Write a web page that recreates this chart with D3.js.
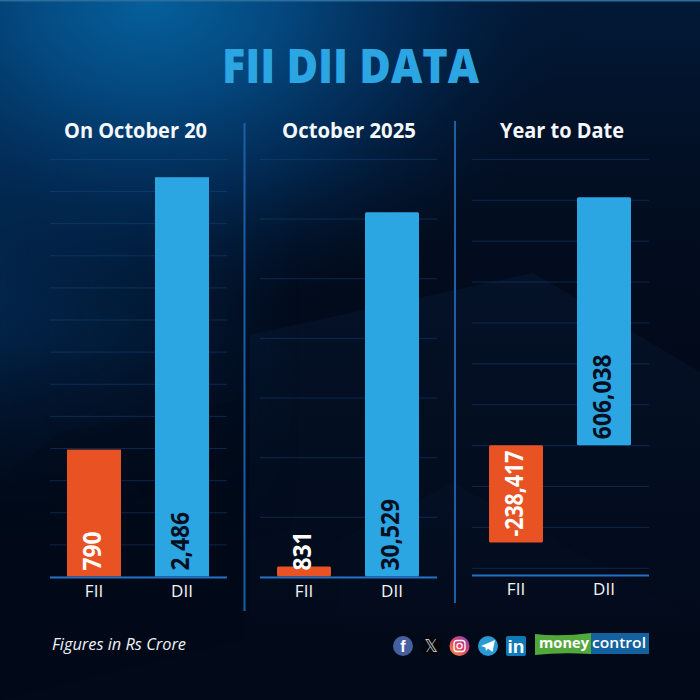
<!DOCTYPE html>
<html>
<head>
<meta charset="utf-8">
<script src="https://cdn.jsdelivr.net/npm/d3@7"></script>
<style>
html,body{margin:0;padding:0;background:#020a1a}
svg{display:block}
text{font-family:"Open Sans","Noto Sans",sans-serif}
</style>
</head>
<body>
<div id="chart"></div>
<script>
const chartTitle = "FII DII DATA";
const footnote = "Figures in Rs Crore";
const categories = ["FII", "DII"];
const panelTitles = ["On October 20", "October 2025", "Year to Date"];
const onOct20Values = [790, 2486];
const oct2025Values = [831, 30529];
const yearToDateValues = [-238417, 606038];
const oct20Domain = [0, 2600];
const oct2025Domain = [0, 35000];
const ytdDomain = [-300000, 700000];
const oct20TickCount = 13;
const oct2025TickCount = 7;
const ytdTickCount = 10;

const W = 700, H = 700;
const svg = d3.select("#chart").append("svg").attr("width", W).attr("height", H);
const defs = svg.append("defs");

function radial(id, cx, cy, r, stops, tf) {
  const g = defs.append("radialGradient").attr("id", id).attr("gradientUnits", "userSpaceOnUse")
    .attr("cx", cx).attr("cy", cy).attr("r", r);
  if (tf) g.attr("gradientTransform", tf);
  stops.forEach(s => g.append("stop").attr("offset", s[0]).attr("stop-color", s[1]).attr("stop-opacity", s[2]));
}
function linear(id, x1, y1, x2, y2, stops) {
  const g = defs.append("linearGradient").attr("id", id).attr("gradientUnits", "userSpaceOnUse")
    .attr("x1", x1).attr("y1", y1).attr("x2", x2).attr("y2", y2);
  stops.forEach(s => g.append("stop").attr("offset", s[0]).attr("stop-color", s[1]).attr("stop-opacity", s[2]));
}
radial("glow", 150, 0, 300, [[0, "#05609c", 1], [0.3, "#04487f", 1], [0.62, "#022b56", 0.85], [1, "#01142d", 0]],
  "translate(150 0) scale(1.45 1.05) translate(-150 0)");
linear("leftFade", 0, 100, 0, 540, [[0, "#03386a", 0.9], [0.55, "#022850", 0.8], [1, "#020c1e", 0]]);
linear("leftFadeX", 0, 0, 300, 0, [[0, "#fff", 1], [0.4, "#fff", 0.7], [1, "#fff", 0]]);
defs.append("mask").attr("id", "leftMask").append("rect").attr("width", W).attr("height", H).attr("fill", "url(#leftFadeX)");
linear("rightTop", 0, 0, 0, 400, [[0, "#021a38", 1], [1, "#020a1a", 0]]);
linear("chev", 0, 270, 0, 640, [[0, "#114078", 0.13], [1, "#114078", 0]]);
linear("ig", 450, 656, 468, 636, [[0, "#f7a23b", 1], [0.5, "#e1426a", 1], [1, "#8a45b5", 1]]);

// Background
svg.append("rect").attr("width", W).attr("height", H).attr("fill", "#020a1a");
svg.append("rect").attr("width", W).attr("height", 400).attr("fill", "url(#rightTop)");
svg.append("rect").attr("width", W).attr("height", H).attr("fill", "url(#leftFade)").attr("mask", "url(#leftMask)");
svg.append("rect").attr("width", W).attr("height", H).attr("fill", "url(#glow)");
const line = d3.line();
const chevrons = [
  [[250, 335], [533, 273], [700, 372], [700, 640], [250, 640]],
  [[340, 540], [453, 483], [700, 622], [700, 700], [340, 700]]
];
svg.append("g").selectAll("path").data(chevrons).join("path")
  .attr("d", d => line(d) + "Z").attr("fill", "url(#chev)");
svg.append("path").attr("d", line([[0, 480], [60, 432], [244, 400], [244, 640], [0, 700]]) + "Z")
  .attr("fill", "#010814").attr("opacity", 0.22);
svg.append("rect").attr("width", W).attr("height", 1.5).attr("fill", "#2b6d9c");

// Title
svg.append("text").attr("x", 350.5).attr("y", 83).attr("text-anchor", "middle")
  .attr("font-size", 48).attr("font-weight", 800).attr("fill", "#2ba6e3")
  .attr("textLength", 257).attr("lengthAdjust", "spacingAndGlyphs").text(chartTitle);

// Panels
const panels = [
  {title: panelTitles[0], values: onOct20Values, domain: oct20Domain, ticks: oct20TickCount,
   x0: 50, yBottom: 576.5, axisY: 577, titleX: 135.5, titleLen: 143, rx: 0},
  {title: panelTitles[1], values: oct2025Values, domain: oct2025Domain, ticks: oct2025TickCount,
   x0: 260, yBottom: 576.5, axisY: 577, titleX: 349, titleLen: 134, rx: 1.5},
  {title: panelTitles[2], values: yearToDateValues, domain: ytdDomain, ticks: ytdTickCount,
   x0: 472, yBottom: 567.8, axisY: 575, titleX: 562, titleLen: 124, rx: 1.5}
];
const panelW = 177;
const colors = ["#e95324", "#2ba6e3"];
const labelColors = ["#ffffff", "#030f20"];
const fmt = v => d3.format(",")(v).replace("\u2212", "-");

panels.forEach(p => {
  const g = svg.append("g");
  const x = d3.scaleBand().domain(categories).range([p.x0, p.x0 + 176]).paddingInner(34 / 88).paddingOuter(17 / 88);
  const y = d3.scaleLinear().domain(p.domain).range([p.yBottom, 158.9]);

  const grid = g.append("g").attr("transform", `translate(${p.x0},0)`)
    .call(d3.axisLeft(y).ticks(p.ticks).tickSize(-panelW).tickFormat(""));
  grid.select(".domain").remove();
  grid.selectAll("line").attr("stroke", "#1d5599").attr("stroke-opacity", 0.38).attr("stroke-width", 1);

  g.selectAll("rect.bar").data(p.values).join("rect").attr("class", "bar")
    .attr("x", (d, i) => x(categories[i]))
    .attr("width", x.bandwidth())
    .attr("y", d => Math.min(y(d), y(0)))
    .attr("height", d => Math.abs(y(d) - y(0)))
    .attr("rx", p.rx)
    .attr("fill", (d, i) => colors[i]);

  const xAxis = g.append("g").attr("transform", `translate(0,${p.axisY})`)
    .call(d3.axisBottom(x).tickSize(0).tickPadding(8));
  xAxis.select(".domain").attr("d", `M${p.x0},0.5H${p.x0 + panelW}`).attr("stroke", "#2170c4").attr("stroke-width", 2.2);
  xAxis.selectAll("text").attr("font-size", 17).attr("fill", "#f2f5f8")
    .style("font-family", '"Open Sans",sans-serif');

  g.selectAll("text.val").data(p.values).join("text").attr("class", "val")
    .attr("transform", (d, i) => {
      const bx = x(categories[i]) + x.bandwidth() / 2 + 7;
      const by = (d < 0 ? y(d) : y(0)) - 6;
      return `translate(${bx},${by}) rotate(-90)`;
    })
    .attr("font-size", 24.5).attr("font-weight", 700)
    .attr("fill", (d, i) => labelColors[i])
    .text(d => fmt(d))
    .each(function(d) {
      const squeeze = d < 0 ? 0.87 : 0.93;
      d3.select(this).attr("textLength", this.getComputedTextLength() * squeeze)
        .attr("lengthAdjust", "spacingAndGlyphs");
    });

  svg.append("text").attr("x", p.titleX).attr("y", 138).attr("text-anchor", "middle")
    .attr("font-size", 20.5).attr("font-weight", 700).attr("fill", "#f4f8fb")
    .attr("textLength", p.titleLen).attr("lengthAdjust", "spacingAndGlyphs").text(p.title);
});

// Dividers
const dividers = [[244.5, 123, 611], [455, 121, 603]];
svg.append("g").selectAll("line").data(dividers).join("line")
  .attr("x1", d => d[0]).attr("x2", d => d[0]).attr("y1", d => d[1]).attr("y2", d => d[2])
  .attr("stroke", "#1c5fa8").attr("stroke-width", 2);

// Footer
svg.append("text").attr("x", 52).attr("y", 650).attr("font-size", 15.5).attr("font-style", "italic")
  .attr("fill", "#eef2f6").attr("textLength", 134).attr("lengthAdjust", "spacingAndGlyphs").text(footnote);

// Social icons
const ic = svg.append("g");
const glyph = (x, y, s, t, fill, w, fam) => ic.append("text").attr("x", x).attr("y", y).attr("text-anchor", "middle")
  .attr("font-size", s).attr("font-weight", w || 700).attr("fill", fill || "#fff")
  .style("font-family", fam || '"Liberation Sans",sans-serif').text(t);
ic.append("circle").attr("cx", 403).attr("cy", 646).attr("r", 10).attr("fill", "#46609f");
glyph(403, 652, 16, "f");
ic.append("circle").attr("cx", 431).attr("cy", 646).attr("r", 10).attr("fill", "#05070c");
glyph(431, 651.5, 17, "𝕏", "#c8ccd0", 400, '"DejaVu Sans",sans-serif');
ic.append("circle").attr("cx", 459.5).attr("cy", 646).attr("r", 10).attr("fill", "url(#ig)");
ic.append("rect").attr("x", 454).attr("y", 640.5).attr("width", 11).attr("height", 11).attr("rx", 3)
  .attr("fill", "none").attr("stroke", "#fff").attr("stroke-width", 1.3);
ic.append("circle").attr("cx", 459.5).attr("cy", 646).attr("r", 2.6).attr("fill", "none").attr("stroke", "#fff").attr("stroke-width", 1.2);
ic.append("circle").attr("cx", 488).attr("cy", 646).attr("r", 10).attr("fill", "#2a9ad4");
ic.append("path").attr("d", line([[481, 646], [495, 640], [492.5, 652], [488, 648.5], [486, 651], [485.5, 647.5]]) + "Z").attr("fill", "#fff");
ic.append("rect").attr("x", 506).attr("y", 636).attr("width", 20).attr("height", 20).attr("rx", 2).attr("fill", "#0f7ab8");
glyph(516, 653, 19, "in", "#fff", 700);

// Logo
svg.append("path").attr("d", "M535,634 Q560,637 591,633 L591,654 Q560,652 535,655 Z").attr("fill", "#53a83c");
svg.append("rect").attr("x", 591).attr("y", 633).attr("width", 58).attr("height", 21).attr("fill", "#13629f");
svg.append("text").attr("x", 539).attr("y", 648).attr("font-size", 15).attr("font-weight", 700).attr("fill", "#fff")
  .attr("textLength", 50).attr("lengthAdjust", "spacingAndGlyphs").text("money");
svg.append("text").attr("x", 592).attr("y", 648).attr("font-size", 15).attr("font-weight", 600).attr("fill", "#fff")
  .attr("textLength", 54).attr("lengthAdjust", "spacingAndGlyphs").text("control");
</script>
</body>
</html>
